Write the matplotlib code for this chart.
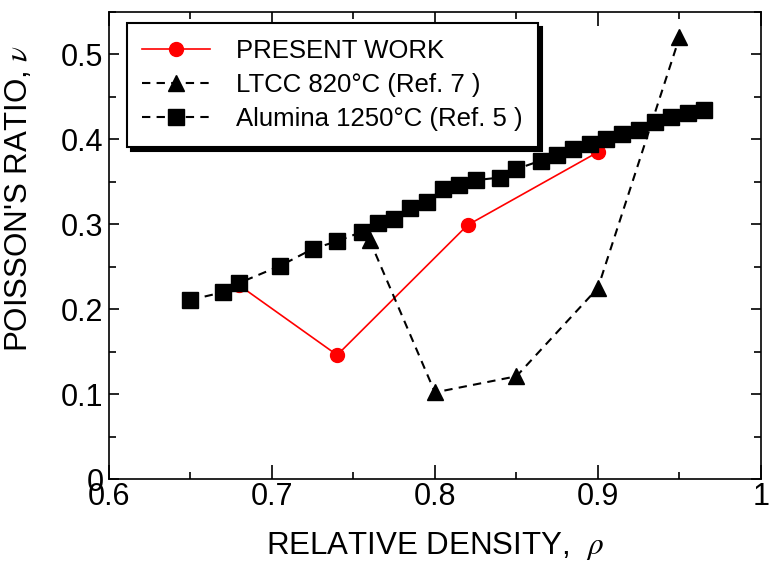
import matplotlib
matplotlib.use("Agg")
from matplotlib import pyplot as plt
from matplotlib.ticker import MultipleLocator

plt.rcParams['font.family'] = ['Liberation Sans', 'DejaVu Sans']
plt.rcParams['mathtext.fontset'] = 'stix'

# PRESENT WORK
pw_rho = [0.68, 0.74, 0.82, 0.90]
pw_nu = [0.228, 0.146, 0.299, 0.385]

# LTCC 820C (Ref. 7)
ltcc_rho = [0.76, 0.80, 0.85, 0.90, 0.95]
ltcc_nu = [0.281, 0.102, 0.121, 0.225, 0.520]

# Alumina 1250C (Ref. 5)
alu_rho = [0.65, 0.67, 0.68, 0.705, 0.725, 0.74, 0.755, 0.765, 0.775, 0.785,
           0.795, 0.805, 0.815, 0.825, 0.84, 0.85, 0.865, 0.875, 0.885, 0.895,
           0.905, 0.915, 0.925, 0.935, 0.945, 0.955, 0.965]
alu_nu = [0.211, 0.220, 0.231, 0.251, 0.271, 0.280, 0.291, 0.301, 0.306, 0.319,
          0.326, 0.341, 0.346, 0.352, 0.355, 0.365, 0.375, 0.381, 0.389, 0.395,
          0.400, 0.406, 0.411, 0.420, 0.426, 0.431, 0.435]

fig = plt.figure(figsize=(7.69, 5.70), dpi=100)
ax = fig.add_axes([0.1417, 0.1596, 0.8478, 0.8194])

ax.plot(pw_rho, pw_nu, '-o', color='red', lw=1.2, markersize=10,
        label='PRESENT WORK', zorder=3)
ax.plot(ltcc_rho, ltcc_nu, '--^', color='black', lw=1.5, markersize=12,
        dashes=(4, 3), label='LTCC 820°C (Ref. 7 )', zorder=4)
ax.plot(alu_rho, alu_nu, '--s', color='black', lw=1.5, markersize=11,
        dashes=(4, 3), label='Alumina 1250°C (Ref. 5 )', zorder=5)

ax.set_xlim(0.6, 1.0)
ax.set_ylim(0, 0.55)
ax.xaxis.set_minor_locator(MultipleLocator(0.05))
ax.yaxis.set_minor_locator(MultipleLocator(0.05))
ax.set_xticks([0.6, 0.7, 0.8, 0.9, 1.0], ['0.6', '0.7', '0.8', '0.9', '1'])
ax.set_yticks([0, 0.1, 0.2, 0.3, 0.4, 0.5], ['0', '0.1', '0.2', '0.3', '0.4', '0.5'])

ax.tick_params(axis='both', which='both', direction='in', top=True, right=True,
               labelsize=22, width=1.2)
ax.tick_params(axis='x', which='major', length=10, pad=2)
ax.tick_params(axis='x', which='minor', length=5)
ax.tick_params(axis='y', which='major', length=7, pad=4)
ax.tick_params(axis='y', which='minor', length=5)
for s in ax.spines.values():
    s.set_linewidth(1.2)

ax.set_xlabel(r'RELATIVE DENSITY,  $\rho$', fontsize=22.5)
ax.set_ylabel(r"POISSON'S RATIO, $\nu$", fontsize=22.5)
ax.xaxis.set_label_coords(0.5, -0.11)
ax.yaxis.set_label_coords(-0.115, 0.6)

leg = ax.legend(loc='upper left', bbox_to_anchor=(0.027, 0.976), fontsize=18.5,
                handlelength=2.65, labelspacing=0.4, borderpad=0.6,
                handletextpad=1.0, fancybox=False, framealpha=1,
                edgecolor='black', borderaxespad=0,
                shadow={'color': 'black', 'alpha': 1, 'ox': 3, 'oy': -3})
leg.get_frame().set_linewidth(1.5)

fig.savefig('out.png', dpi=100)
